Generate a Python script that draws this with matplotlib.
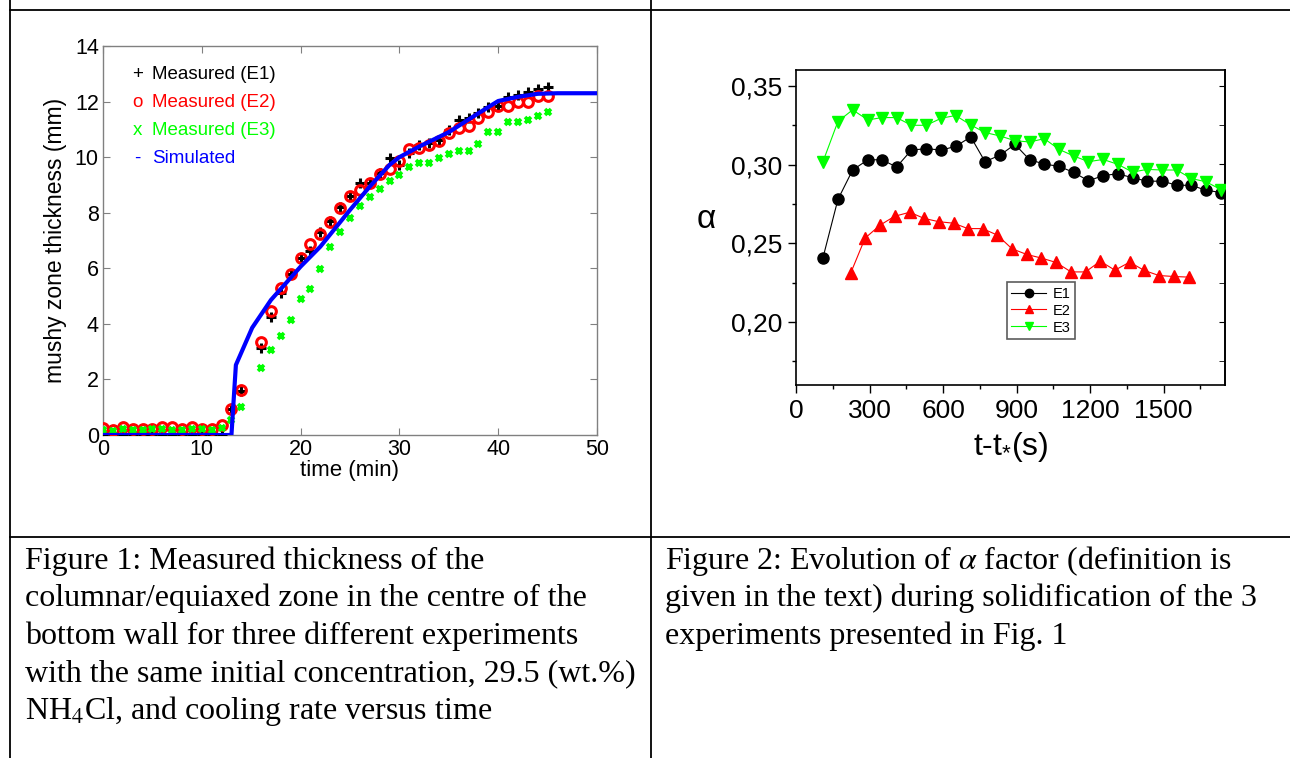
import numpy as np
import matplotlib.pyplot as plt
from matplotlib.lines import Line2D
from matplotlib.ticker import MultipleLocator, FuncFormatter

plt.rcParams['font.family'] = ['Liberation Sans', 'DejaVu Sans']
plt.rcParams['mathtext.fontset'] = 'custom'
plt.rcParams['mathtext.rm'] = 'Liberation Sans'
plt.rcParams['mathtext.it'] = 'Liberation Sans:italic'

# ---- Figure 1 data (time in min, thickness in mm)
t_meas = list(range(0, 15)) + list(range(16, 46))
e1_mm = [0, 0, 0, 0, 0, 0, 0, 0, 0, 0, 0, 0, 0, 0.92, 1.58,
         3.12, 4.23, 5.12, 5.79, 6.36, 6.63, 7.32, 7.70, 8.20, 8.60, 9.08, 9.06, 9.44, 9.96, 9.72,
         10.14, 10.44, 10.50, 10.62, 10.98, 11.34, 11.40, 11.58, 11.80, 11.84, 12.18, 12.24, 12.36, 12.44, 12.54]
e2_mm = [0.24, 0.18, 0.30, 0.22, 0.22, 0.22, 0.30, 0.30, 0.22, 0.30, 0.22, 0.22, 0.36, 0.94, 1.62,
         3.36, 4.46, 5.28, 5.79, 6.36, 6.86, 7.22, 7.68, 8.18, 8.61, 8.83, 9.06, 9.38, 9.56, 9.86,
         10.28, 10.32, 10.44, 10.59, 10.88, 11.04, 11.12, 11.40, 11.64, 11.84, 11.84, 12.00, 12.00, 12.21, 12.21]
e3_mm = [0.18, 0.15, 0.20, 0.17, 0.18, 0.20, 0.22, 0.17, 0.18, 0.22, 0.20, 0.18, 0.25, 0.54, 1.02,
         2.40, 3.06, 3.56, 4.14, 4.88, 5.24, 5.96, 6.75, 7.30, 7.80, 8.25, 8.55, 8.85, 9.14, 9.36,
         9.66, 9.80, 9.80, 9.96, 10.10, 10.23, 10.23, 10.46, 10.89, 10.89, 11.25, 11.25, 11.34, 11.48, 11.64]
t_sim = [0, 13, 13.45, 15.1, 17, 20, 22, 25, 27, 29, 30, 32, 35, 38, 40, 42, 44, 46, 50]
sim_mm = [0, 0, 2.52, 3.86, 4.86, 6.06, 6.78, 8.10, 8.94, 9.72, 10.0, 10.38, 10.9, 11.58, 12.02, 12.17, 12.28, 12.3, 12.3]

# ---- Figure 2 data (t - t* in s, alpha)
t_e1 = [110, 171, 231, 293, 351, 410, 471, 531, 593, 651, 713, 771, 833, 893,
        953, 1013, 1073, 1133, 1193, 1253, 1313, 1373, 1433, 1493, 1553, 1613, 1673, 1733]
a_e1 = [0.2408, 0.2778, 0.2965, 0.3030, 0.3030, 0.2984, 0.3092, 0.3100, 0.3092, 0.3115, 0.3175, 0.3018, 0.3060, 0.3128,
        0.3030, 0.3003, 0.2988, 0.2950, 0.2896, 0.2930, 0.2941, 0.2916, 0.2894, 0.2894, 0.2869, 0.2867, 0.2837, 0.2822]
t_e2 = [224, 282, 344, 402, 464, 522, 582, 644, 701, 761, 821, 881,
        941, 1001, 1061, 1122, 1181, 1241, 1301, 1361, 1421, 1481, 1541, 1602]
a_e2 = [0.2314, 0.2533, 0.2616, 0.2671, 0.2697, 0.2658, 0.2637, 0.2627, 0.2593, 0.2593, 0.2552, 0.2465,
        0.2429, 0.2406, 0.2378, 0.2318, 0.2318, 0.2386, 0.2329, 0.2380, 0.2327, 0.2295, 0.2289, 0.2285]
t_e3 = t_e1
a_e3 = [0.3018, 0.3273, 0.3347, 0.3283, 0.3298, 0.3298, 0.3249, 0.3249, 0.3294, 0.3311, 0.3251, 0.3203, 0.3181, 0.3151,
        0.3143, 0.3164, 0.3096, 0.3054, 0.3018, 0.3032, 0.3001, 0.2952, 0.2969, 0.2965, 0.2965, 0.2911, 0.2890, 0.2841]

W, H = 1290, 758
fig = plt.figure(figsize=(W / 100, H / 100), dpi=100)
fig.patch.set_facecolor('white')

def rect(x0, y0, x1, y1):
    return [x0 / W, 1 - y1 / H, (x1 - x0) / W, (y1 - y0) / H]

# table lines
for xs, ys in [((10, 10), (0, H)), ((651, 651), (0, H)), ((10, W), (10, 10)), ((10, W), (537, 537))]:
    fig.add_artist(Line2D([x / W for x in xs], [1 - y / H for y in ys], color='black', lw=1.3,
                          transform=fig.transFigure))

# ---------------- Figure 1 (MATLAB style)
ax1 = fig.add_axes(rect(103, 46, 597, 435))
ax1.plot(t_meas, e1_mm, '+', color='black', ms=7, mew=2.2, ls='none', zorder=3)
ax1.plot(t_meas, e2_mm, 'o', color='red', mfc='none', ms=7, mew=2.2, ls='none', zorder=4)
ax1.plot(t_meas, e3_mm, 'x', color='#00ff00', ms=4.5, mew=2.6, ls='none', zorder=5)
ax1.plot(t_sim, sim_mm, '-', color='#0000ff', lw=3, zorder=6)
ax1.set_xlim(0, 50)
ax1.set_ylim(0, 14)
ax1.set_xticks(range(0, 51, 10))
ax1.set_yticks(range(0, 15, 2))
ax1.tick_params(direction='in', top=True, right=True, length=5, color='#808080',
                labelsize=15.5, pad=3)
for s in ax1.spines.values():
    s.set_color('#808080')
    s.set_linewidth(1)
ax1.set_xlabel('time (min)', fontsize=16, labelpad=0)
ax1.set_ylabel('mushy zone thickness (mm)', fontsize=16.5)
ax1.yaxis.set_label_coords(-0.072, 0.5)

leg_items = [('+', 'Measured (E1)', 'black'), ('o', 'Measured (E2)', 'red'),
             ('x', 'Measured (E3)', '#00ff00'), ('-', 'Simulated', '#0000ff')]
for i, (sym, lab, col) in enumerate(leg_items):
    y = 12.96 - i * 1.0
    ax1.text(3.5, y, sym, color=col, fontsize=13.5, ha='center', va='center')
    ax1.text(5.0, y, lab, color=col, fontsize=13.5, ha='left', va='center')

# ---------------- Figure 2 (Origin style)
ax2 = fig.add_axes(rect(796, 70, 1225, 385))
ax2.plot(t_e1, a_e1, '-o', color='black', lw=0.8, ms=8, label='E1', zorder=3)
ax2.plot(t_e2, a_e2, '-^', color='red', lw=0.8, ms=8.5, label='E2', zorder=4)
ax2.plot(t_e3, a_e3, '-v', color='#00ff00', lw=0.8, ms=8.5, label='E3', zorder=5)
ax2.set_xlim(0, 1750)
ax2.set_ylim(0.16, 0.36)
ax2.xaxis.set_major_locator(MultipleLocator(300))
ax2.xaxis.set_minor_locator(MultipleLocator(150))
ax2.yaxis.set_major_locator(MultipleLocator(0.05))
ax2.yaxis.set_minor_locator(MultipleLocator(0.025))
ax2.yaxis.set_major_formatter(FuncFormatter(lambda v, p: ('%.2f' % v).replace('.', ',')))
ax2.tick_params(which='major', direction='out', length=6, width=1, labelsize=19, pad=4)
ax2.tick_params(which='minor', direction='out', length=3, width=1)
ax2.set_yticks([0.20, 0.25, 0.30, 0.35])
sec = ax2.secondary_yaxis('right')
sec.yaxis.set_major_locator(MultipleLocator(0.05))
sec.yaxis.set_minor_locator(MultipleLocator(0.025))
sec.tick_params(which='both', direction='in', labelright=False, length=4)
for s in list(ax2.spines.values()) + list(sec.spines.values()):
    s.set_linewidth(1.2)
ax2.set_xlabel(r't-t$_{*}$(s)', fontsize=23, labelpad=5)
ax2.set_ylabel('α', fontsize=24, rotation=0, va='center', ha='center')
ax2.yaxis.set_label_coords(-0.21, 0.525)
leg = ax2.legend(loc='upper left', bbox_to_anchor=(0.492, 0.326), fontsize=10.5, frameon=True,
                 fancybox=False, handlelength=2.4, markerscale=0.75, borderpad=0.3,
                 labelspacing=0.2, handletextpad=0.4, borderaxespad=0)
leg.get_frame().set_edgecolor('#333333')
leg.get_frame().set_linewidth(1.2)

# ---------------- captions
serif = 'Liberation Serif'
cap1 = ['Figure 1: Measured thickness of the',
        'columnar/equiaxed zone in the centre of the',
        'bottom wall for three different experiments',
        'with the same initial concentration, 29.5 (wt.%)',
        r'NH$_4$Cl, and cooling rate versus time']
cap2 = [r'Figure 2: Evolution of $\alpha$ factor (definition is',
        'given in the text) during solidification of the 3',
        'experiments presented in Fig. 1']
for i, line in enumerate(cap1):
    fig.text(25 / W, 1 - (561 + i * 37.5) / H, line, fontsize=23, family=serif,
             math_fontfamily='stix', va='center', ha='left')
for i, line in enumerate(cap2):
    fig.text(665 / W, 1 - (561 + i * 37.5) / H, line, fontsize=23, family=serif,
             math_fontfamily='stix', va='center', ha='left')

fig.savefig('out.png', dpi=100)
